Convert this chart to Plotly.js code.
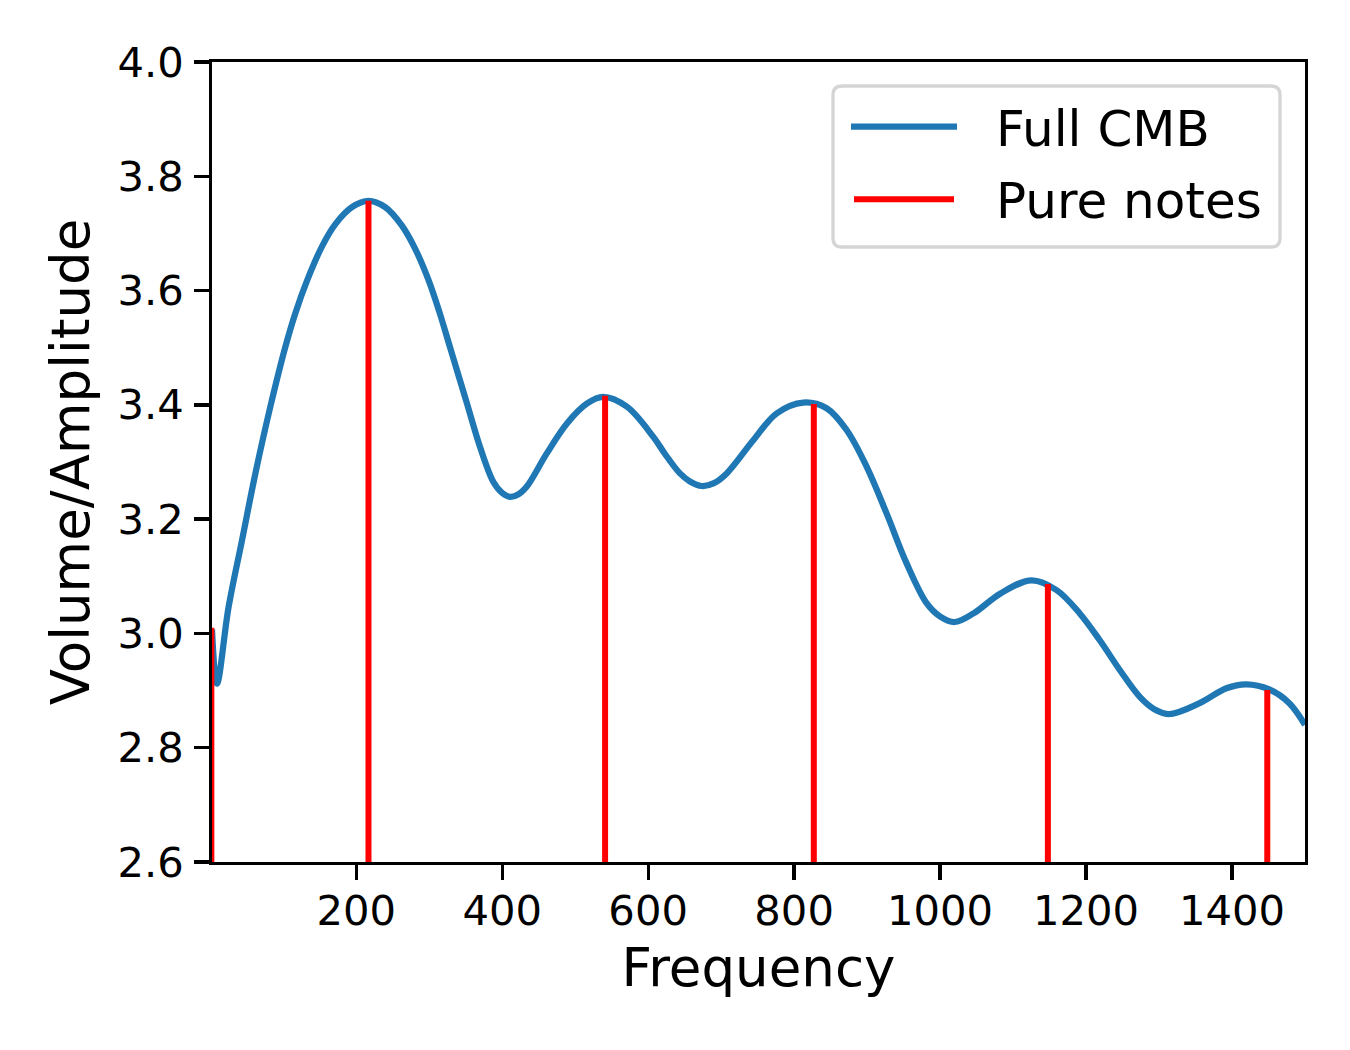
<!DOCTYPE html>
<html>
<head>
<meta charset="utf-8">
<script src="https://cdn.plot.ly/plotly-3.0.1.min.js"></script>
<style>
  html, body { margin: 0; padding: 0; background: #ffffff; }
  #chart { width: 1350px; height: 1050px; }
</style>
</head>
<body>
<div id="chart"></div>
<script>
// Combined spectrum (frequency vs. volume/amplitude)
const freq = [2.4, 9.2, 25.1, 43.5, 61.7, 82.2, 102.8, 116.5, 132.5, 153.0, 171.2, 194.1,
  216.8, 239.7, 262.4, 280.8, 298.6, 313.6, 329.4, 351.6, 370.5, 388.0, 399.9, 410.9,
  421.8, 433.7, 461.1, 488.5, 515.9, 538.2, 570.6, 607.1, 623.1, 643.6, 657.3, 673.3,
  690.2, 707.6, 744.0, 776.0, 812.5, 844.5, 871.9, 899.3, 926.7, 954.0, 981.5, 999.7,
  1020.2, 1045.8, 1082.8, 1125.3, 1159.4, 1191.4, 1218.8, 1246.2, 1273.6, 1294.1,
  1314.6, 1355.7, 1392.2, 1419.6, 1451.1, 1478.5, 1500.0];
const amplitude = [3.007, 2.912, 3.046, 3.163, 3.279, 3.396, 3.501, 3.560, 3.617, 3.677, 3.716, 3.746,
  3.757, 3.746, 3.714, 3.673, 3.620, 3.564, 3.497, 3.403, 3.323, 3.265, 3.246, 3.239,
  3.243, 3.257, 3.315, 3.367, 3.402, 3.414, 3.397, 3.344, 3.314, 3.280, 3.266, 3.258,
  3.263, 3.280, 3.338, 3.385, 3.404, 3.394, 3.356, 3.292, 3.210, 3.123, 3.053, 3.030,
  3.020, 3.035, 3.070, 3.093, 3.076, 3.035, 2.988, 2.936, 2.889, 2.867,
  2.859, 2.878, 2.904, 2.911, 2.902, 2.878, 2.840];

// Individual pure notes (frequency and amplitude)
const noteFreq = [1.5, 216.8, 541.0, 827.0, 1147.7, 1448.3];
const noteAmp  = [3.010, 3.757, 3.416, 3.4015, 3.0865, 2.901];

// Axis ticks
const xTickVals = [200, 400, 600, 800, 1000, 1200, 1400];
const yTickVals = [2.6, 2.8, 3.0, 3.2, 3.4, 3.6, 3.8, 4.0];
const xRange = [2.4, 1500];
const yRange = [2.6, 4.0];

// Legend entries
const seriesNames = ['Full CMB', 'Pure notes'];
const seriesColors = ['#1f77b4', '#ff0000'];

// Vertical stems for the notes, from the bottom of the axis up to each amplitude
const stemX = [], stemY = [];
noteFreq.forEach((f, i) => {
  stemX.push(f, f, null);
  stemY.push(yRange[0], noteAmp[i], null);
});

const traces = [
  {
    x: freq, y: amplitude, type: 'scatter', mode: 'lines', name: seriesNames[0],
    line: { color: seriesColors[0], width: 6.25, shape: 'spline', smoothing: 1.0 },
    showlegend: false, hoverinfo: 'skip'
  },
  {
    x: stemX, y: stemY, type: 'scatter', mode: 'lines', name: seriesNames[1],
    line: { color: seriesColors[1], width: 6 },
    showlegend: false, hoverinfo: 'skip', connectgaps: false
  }
];

// Plot area geometry (pixels)
const W = 1350, H = 1050;
const M = { l: 212, r: 45, t: 62, b: 188 };
const PW = W - M.l - M.r, PH = H - M.t - M.b;
const px = v => (v - M.l) / PW;          // page x -> paper x
const py = v => (H - M.b - v) / PH;      // page y -> paper y

// Legend box with rounded corners
const box = { x0: 833, x1: 1280, y0: 86, y1: 247, r: 9 };
const rx = box.r / PW, ry = box.r / PH;
const bx0 = px(box.x0), bx1 = px(box.x1), byT = py(box.y0), byB = py(box.y1);
const legendPath =
  `M${bx0 + rx},${byT} L${bx1 - rx},${byT} Q${bx1},${byT} ${bx1},${byT - ry} ` +
  `L${bx1},${byB + ry} Q${bx1},${byB} ${bx1 - rx},${byB} ` +
  `L${bx0 + rx},${byB} Q${bx0},${byB} ${bx0},${byB + ry} ` +
  `L${bx0},${byT - ry} Q${bx0},${byT} ${bx0 + rx},${byT} Z`;

const rowY = [126.7, 199.3];
const shapes = [
  {
    type: 'path', xref: 'paper', yref: 'paper', path: legendPath,
    fillcolor: 'rgba(255,255,255,0.8)', line: { color: '#d5d5d5', width: 3.3 }, layer: 'above'
  },
  {
    type: 'line', xref: 'paper', yref: 'paper',
    x0: px(851), x1: px(957), y0: py(rowY[0]), y1: py(rowY[0]),
    line: { color: seriesColors[0], width: 6.25 }, layer: 'above'
  },
  {
    type: 'line', xref: 'paper', yref: 'paper',
    x0: px(854), x1: px(954), y0: py(rowY[1]), y1: py(rowY[1]),
    line: { color: seriesColors[1], width: 6 }, layer: 'above'
  }
];

const FONT = 'DejaVu Sans, Liberation Sans, sans-serif';
const annotations = seriesNames.map((name, i) => ({
  xref: 'paper', yref: 'paper', x: px(994), y: py(rowY[i] + 2),
  xanchor: 'left', yanchor: 'middle', showarrow: false, text: name,
  font: { family: FONT, size: 50, color: '#000000' }
}));

const layout = {
  width: W, height: H,
  margin: M,
  paper_bgcolor: '#ffffff', plot_bgcolor: '#ffffff',
  font: { family: FONT, color: '#000000' },
  showlegend: false,
  xaxis: {
    range: xRange, tickvals: xTickVals, ticktext: xTickVals.map(String),
    showgrid: false, zeroline: false,
    showline: true, mirror: true, linecolor: '#000000', linewidth: 3.3,
    ticks: 'outside', ticklen: 14.6, tickwidth: 3.3, tickcolor: '#000000',
    ticklabelstandoff: -5,
    tickfont: { family: FONT, size: 41.7, color: '#000000' },
    title: { text: 'Frequency', font: { family: FONT, size: 53, color: '#000000' }, standoff: 16 }
  },
  yaxis: {
    range: yRange, tickvals: yTickVals, ticktext: yTickVals.map(v => v.toFixed(1)),
    showgrid: false, zeroline: false,
    showline: true, mirror: true, linecolor: '#000000', linewidth: 3.3,
    ticks: 'outside', ticklen: 14.6, tickwidth: 3.3, tickcolor: '#000000',
    ticklabelstandoff: 2,
    tickfont: { family: FONT, size: 41.7, color: '#000000' },
    title: { text: 'Volume/Amplitude', font: { family: FONT, size: 53, color: '#000000' }, standoff: 12 }
  },
  shapes: shapes,
  annotations: annotations
};

Plotly.newPlot('chart', traces, layout, { staticPlot: true, displayModeBar: false });
</script>
</body>
</html>
